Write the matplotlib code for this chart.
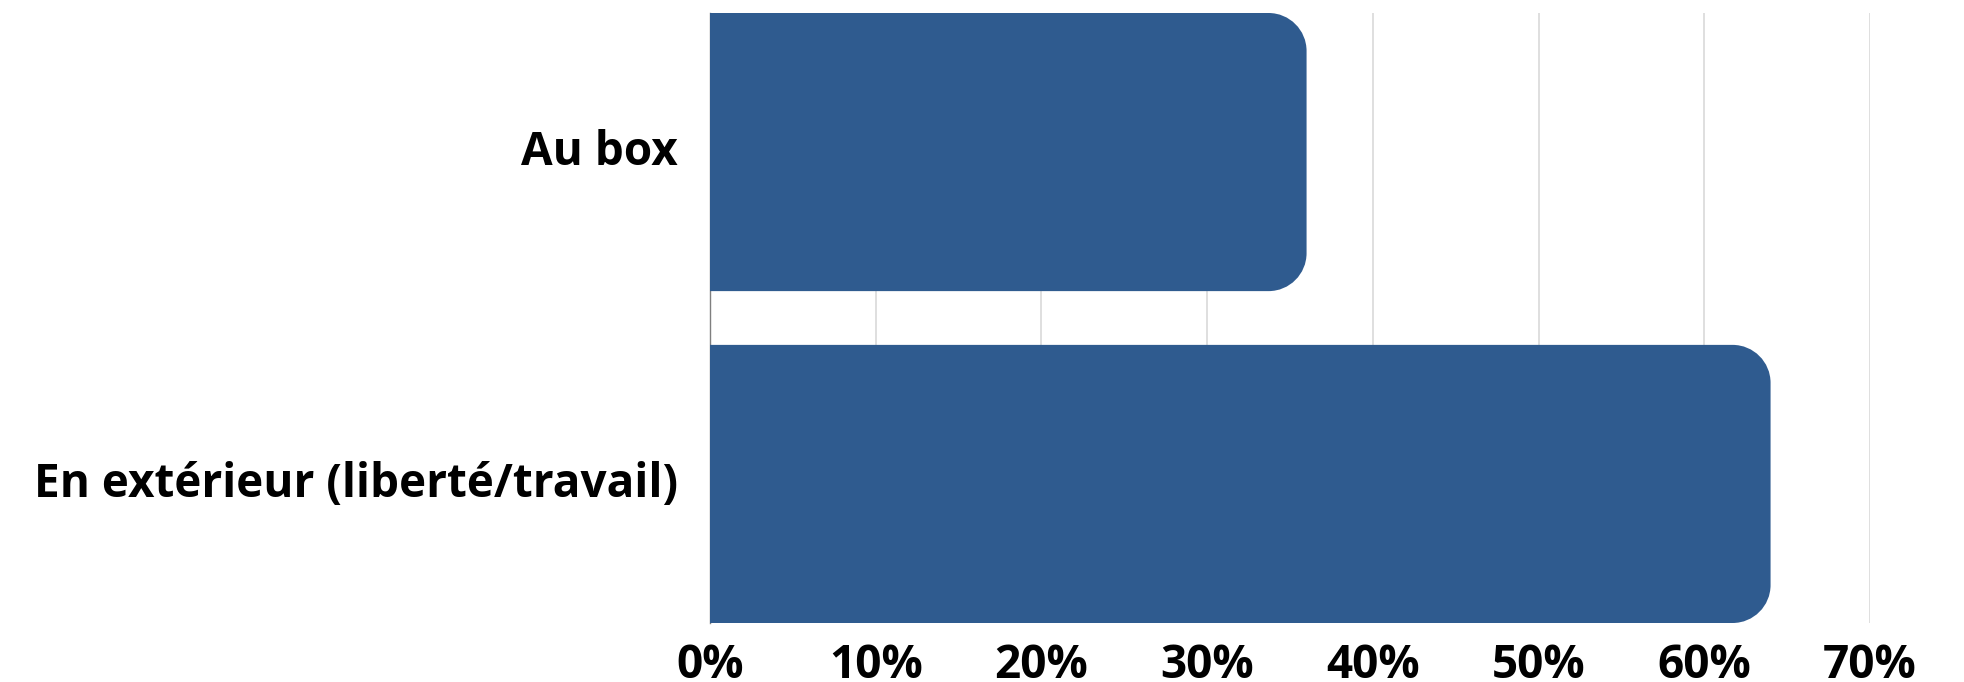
import matplotlib
matplotlib.use("Agg")
import matplotlib.pyplot as plt
from matplotlib.path import Path
from matplotlib.patches import PathPatch
from matplotlib.transforms import ScaledTranslation

categories = ["Au box", "En extérieur (liberté/travail)"]
values = [36, 64]
xticks = [0, 10, 20, 30, 40, 50, 60, 70]
xtick_labels = ["0%", "10%", "20%", "30%", "40%", "50%", "60%", "70%"]

BAR_COLOR = "#2F5B8F"
FONT = ["Open Sans", "DejaVu Sans"]

W, H = 1964, 682
fig = plt.figure(figsize=(W / 100, H / 100), dpi=100)
ax_l, ax_r, ax_t, ax_b = 710, 1870, 13, 623
ax = fig.add_axes([ax_l / W, (H - ax_b) / H, (ax_r - ax_l) / W, (ax_b - ax_t) / H])

bh = 0.838
ax.set_xlim(0, 70)
ax.set_ylim(len(categories) - 1 + bh / 2, -bh / 2)

bars = ax.barh(range(len(categories)), values, height=bh, color="none", edgecolor="none")

# rounded right corners (radius in pixels converted to data units)
r_px = 38
rx = r_px * 70 / (ax_r - ax_l)
ry = r_px * (len(categories) - 1 + bh) / (ax_b - ax_t)
k = 0.5523
for b in bars:
    x0, y0, w, hh = b.get_x(), b.get_y(), b.get_width(), b.get_height()
    y1 = y0 + hh
    verts = [
        (x0, y0),
        (w - rx, y0),
        (w - rx + k * rx, y0), (w, y0 + ry - k * ry), (w, y0 + ry),
        (w, y1 - ry),
        (w, y1 - ry + k * ry), (w - rx + k * rx, y1), (w - rx, y1),
        (x0, y1),
        (x0, y0),
    ]
    codes = [Path.MOVETO, Path.LINETO,
             Path.CURVE4, Path.CURVE4, Path.CURVE4,
             Path.LINETO,
             Path.CURVE4, Path.CURVE4, Path.CURVE4,
             Path.LINETO, Path.CLOSEPOLY]
    ax.add_patch(PathPatch(Path(verts, codes), facecolor=BAR_COLOR, edgecolor="none", zorder=3))

ax.set_xticks(xticks)
ax.set_xticklabels(xtick_labels, fontfamily=FONT, fontweight="bold", fontsize=33)
ax.set_yticks(range(len(categories)))
ax.set_yticklabels(categories, fontfamily=FONT, fontweight="bold", fontsize=33)
ax.tick_params(axis="both", length=0)
ax.tick_params(axis="x", pad=14)
ax.tick_params(axis="y", pad=23)
shift = ScaledTranslation(0, 5 / 100, fig.dpi_scale_trans)
for lab in ax.get_yticklabels():
    lab.set_transform(lab.get_transform() + shift)

ax.grid(axis="x", color="#D9D9D9", linewidth=1.2)
ax.set_axisbelow(True)
for s in ["top", "right", "bottom"]:
    ax.spines[s].set_visible(False)
ax.spines["left"].set_color("#7F7F7F")
ax.spines["left"].set_linewidth(1.0)
ax.spines["left"].set_zorder(1)

fig.savefig("out.png", dpi=100, facecolor="white")
